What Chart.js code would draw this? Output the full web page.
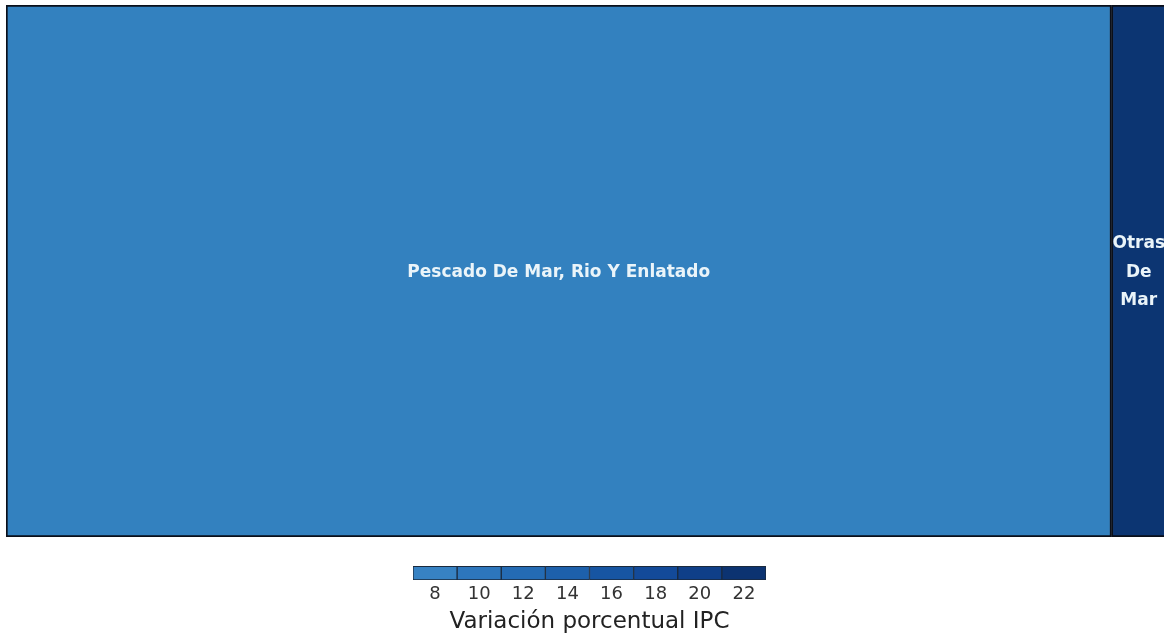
<!DOCTYPE html>
<html lang="es">
<head>
    <meta charset="UTF-8">
    <title>Variación porcentual IPC</title>
    <script src="https://cdn.jsdelivr.net/npm/chart.js@4.4.1/dist/chart.umd.min.js"></script>
    <style>
        html, body {
            margin: 0;
            padding: 0;
            background: #ffffff;
            overflow: hidden;
            width: 1164px;
            height: 636px;
        }
        /* treemap area; a bit wider than the window so the right edge is cut like the original */
        .tree-wrapper {
            position: absolute;
            left: 0;
            top: 0;
            width: 1166px;
            height: 545px;
        }
        /* colour scale; the plot area sits in the top part, axis + title below */
        .legend-wrapper {
            position: absolute;
            left: 413px;
            top: 524px;
            width: 353px;
            height: 112px;
        }
    </style>
</head>
<body>

<div class="tree-wrapper"><canvas id="treeChart"></canvas></div>
<div class="legend-wrapper"><canvas id="legendChart"></canvas></div>

<script>
    // --- DATA ---
    const categories = ['Pescado De Mar, Rio Y Enlatado', 'Otras De Mar'];
    const weights = [95.3, 4.7];          // relative area of each tile
    const ipcChange = [8.3, 22.2];        // Variación porcentual IPC (drives the colour)
    const tileColors = ['#3381bf', '#0c3572'];
    const tileLines = [['Pescado De Mar, Rio Y Enlatado'], ['Otras', 'De', 'Mar']];

    const legendTicks = ['8', '10', '12', '14', '16', '18', '20', '22'];
    const legendColors = ['#3782c3', '#2d76bc', '#246bb4', '#1d60ab', '#1755a2', '#134a99', '#0f3f88', '#0c3371'];

    const totalWeight = weights.reduce((a, b) => a + b, 0);

    // tile labels, drawn at the centre of each bar element
    const tileLabels = {
        id: 'tileLabels',
        afterDatasetsDraw(chart) {
            const ctx = chart.ctx;
            ctx.save();
            ctx.font = 'bold 17px "DejaVu Sans", Verdana, sans-serif';
            ctx.fillStyle = '#eaf4f9';
            ctx.textAlign = 'center';
            ctx.textBaseline = 'middle';
            chart.data.datasets.forEach((ds, i) => {
                const el = chart.getDatasetMeta(i).data[0];
                const cx = (el.x + el.base) / 2;
                const cy = el.y + 1.5;
                const lines = tileLines[i];
                const lh = 28.5;
                lines.forEach((line, j) => {
                    ctx.fillText(line, cx, cy + (j - (lines.length - 1) / 2) * lh);
                });
            });
            ctx.restore();
        }
    };

    new Chart(document.getElementById('treeChart'), {
        type: 'bar',
        data: {
            labels: ['IPC'],
            datasets: categories.map((name, i) => ({
                label: name,
                data: [weights[i]],
                backgroundColor: tileColors[i],
                borderColor: '#0a0f1a',
                borderWidth: 2,
                borderSkipped: false,
                barPercentage: 1,
                categoryPercentage: 1
            }))
        },
        options: {
            indexAxis: 'y',
            responsive: true,
            maintainAspectRatio: false,
            animation: false,
            layout: { padding: { left: 6, top: 5, right: 0, bottom: 8 } },
            plugins: {
                legend: { display: false },
                tooltip: { enabled: false }
            },
            scales: {
                x: { stacked: true, min: 0, max: totalWeight, display: false },
                y: { stacked: true, display: false }
            }
        },
        plugins: [tileLabels]
    });

    // colour scale legend: one equal segment per tick, sitting at the bottom of the plot area
    new Chart(document.getElementById('legendChart'), {
        type: 'bar',
        data: {
            labels: legendTicks,
            datasets: [{
                data: legendTicks.map(() => 1),
                backgroundColor: legendColors,
                borderColor: '#1b2a3d',
                borderWidth: 1,
                borderSkipped: false,
                barPercentage: 1,
                categoryPercentage: 1
            }]
        },
        options: {
            responsive: true,
            maintainAspectRatio: false,
            animation: false,
            layout: { padding: 0 },
            plugins: {
                legend: { display: false },
                tooltip: { enabled: false }
            },
            scales: {
                x: {
                    grid: { display: false, drawTicks: false },
                    border: { display: false },
                    ticks: {
                        color: '#333333',
                        padding: 4,
                        maxRotation: 0,
                        font: { size: 18, family: '"DejaVu Sans", Verdana, sans-serif' }
                    },
                    title: {
                        display: true,
                        text: 'Variación porcentual IPC',
                        color: '#222222',
                        padding: { top: -1, bottom: 0 },
                        font: { size: 23, family: '"DejaVu Sans", Verdana, sans-serif' }
                    }
                },
                y: { display: false, min: 0, max: 57 / 14 }
            }
        }
    });
</script>

</body>
</html>
